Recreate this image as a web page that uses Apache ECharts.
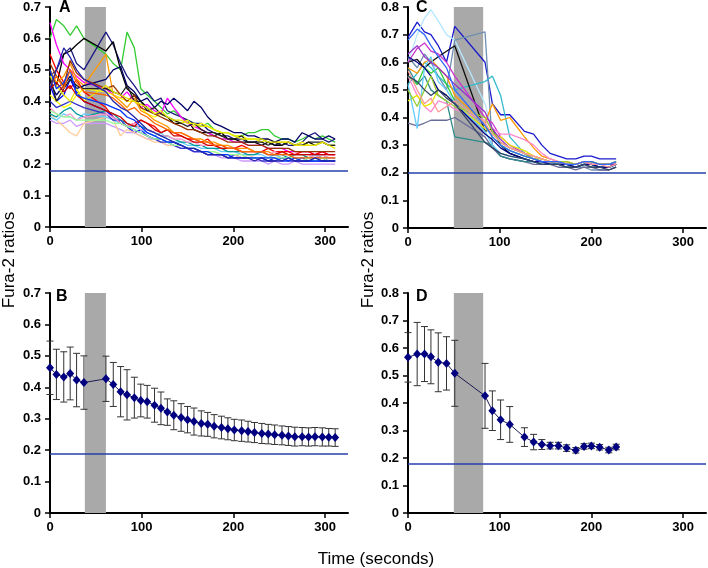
<!DOCTYPE html>
<html>
<head>
<meta charset="utf-8">
<script src="https://cdn.jsdelivr.net/npm/echarts@6/dist/echarts.min.js"></script>
<style>
  html, body { margin: 0; padding: 0; background: #fff; }
  #main { width: 708px; height: 568px; }
</style>
</head>
<body>
<div id="main"></div>
<script>
// ---- data ----
// panel A / B sampling times (s)
var timesA = [0,7,15,22,29,37, 61,69,77,84,92,99,106,114,121,128, 135,143,150,157,165,172,179,187,194,201,
  209,216,223,231,238,245,253,260,267,275, 282,289,297,304,311];

// individual cell traces, panel A
var tracesA = [
  [0.60,0.66,0.64,0.61,0.64,0.60, 0.55,0.52,0.50,0.62,0.57,0.44,0.42,0.40,0.38,0.36, 0.37,0.35,0.34,0.33,0.32,0.33,0.31,0.30,0.30,0.29, 0.29,0.30,0.30,0.31,0.31,0.29,0.28,0.28,0.27,0.28, 0.29,0.28,0.29,0.28,0.27],
  [0.48,0.50,0.55,0.57,0.52,0.50, 0.62,0.58,0.52,0.48,0.45,0.42,0.43,0.40,0.41,0.37, 0.36,0.35,0.34,0.33,0.33,0.31,0.30,0.29,0.29,0.28, 0.28,0.27,0.27,0.28,0.27,0.26,0.27,0.26,0.26,0.27, 0.29,0.30,0.28,0.27,0.28],
  [0.50,0.45,0.55,0.56,0.58,0.60, 0.56,0.59,0.50,0.44,0.42,0.40,0.38,0.36,0.36,0.35, 0.33,0.33,0.34,0.31,0.30,0.30,0.29,0.30,0.28,0.28, 0.27,0.27,0.27,0.26,0.27,0.26,0.26,0.27,0.26,0.26, 0.27,0.26,0.27,0.26,0.26],
  [0.65,0.58,0.52,0.50,0.48,0.46, 0.44,0.42,0.41,0.43,0.40,0.38,0.39,0.37,0.36,0.41, 0.38,0.35,0.33,0.32,0.31,0.30,0.29,0.28,0.28,0.27, 0.27,0.26,0.26,0.26,0.25,0.25,0.25,0.24,0.24,0.24, 0.24,0.23,0.24,0.23,0.23],
  [0.55,0.50,0.46,0.44,0.47,0.43, 0.38,0.35,0.33,0.32,0.33,0.34,0.33,0.32,0.30,0.31, 0.30,0.29,0.28,0.28,0.27,0.28,0.26,0.26,0.25,0.25, 0.26,0.25,0.24,0.24,0.25,0.24,0.24,0.24,0.23,0.24, 0.24,0.23,0.24,0.23,0.23],
  [0.45,0.40,0.42,0.47,0.43,0.40, 0.37,0.35,0.33,0.32,0.30,0.31,0.29,0.28,0.28,0.27, 0.27,0.26,0.25,0.24,0.24,0.23,0.23,0.23,0.22,0.23, 0.22,0.22,0.22,0.22,0.21,0.22,0.22,0.22,0.21,0.22, 0.21,0.22,0.22,0.21,0.21],
  [0.42,0.40,0.38,0.39,0.42,0.44, 0.43,0.42,0.41,0.40,0.40,0.38,0.36,0.35,0.36,0.35, 0.34,0.33,0.34,0.32,0.33,0.32,0.31,0.30,0.30,0.29, 0.29,0.28,0.28,0.27,0.28,0.27,0.27,0.27,0.26,0.27, 0.26,0.26,0.27,0.26,0.26],
  [0.50,0.46,0.48,0.52,0.47,0.45, 0.55,0.42,0.40,0.38,0.41,0.37,0.36,0.34,0.33,0.32, 0.30,0.30,0.29,0.28,0.28,0.27,0.27,0.26,0.26,0.25, 0.25,0.25,0.24,0.24,0.24,0.23,0.24,0.23,0.23,0.23, 0.22,0.23,0.22,0.22,0.22],
  [0.34,0.33,0.33,0.34,0.32,0.33, 0.33,0.32,0.31,0.30,0.30,0.29,0.28,0.28,0.27,0.26, 0.26,0.25,0.25,0.24,0.24,0.23,0.23,0.22,0.22,0.22, 0.21,0.21,0.21,0.21,0.20,0.21,0.20,0.20,0.21,0.20, 0.20,0.20,0.20,0.20,0.20],
  [0.36,0.34,0.32,0.30,0.29,0.33, 0.35,0.34,0.29,0.31,0.30,0.29,0.28,0.27,0.27,0.26, 0.26,0.26,0.25,0.25,0.24,0.24,0.24,0.23,0.23,0.23, 0.22,0.23,0.22,0.22,0.22,0.22,0.22,0.21,0.22,0.21, 0.21,0.22,0.21,0.21,0.21],
  [0.35,0.34,0.36,0.35,0.34,0.36, 0.35,0.34,0.33,0.32,0.32,0.31,0.30,0.29,0.30,0.28, 0.27,0.27,0.26,0.26,0.25,0.25,0.25,0.24,0.24,0.24, 0.23,0.23,0.23,0.23,0.22,0.23,0.22,0.22,0.22,0.22, 0.22,0.23,0.22,0.22,0.22],
  [0.36,0.35,0.37,0.38,0.36,0.35, 0.37,0.36,0.34,0.33,0.32,0.32,0.31,0.30,0.29,0.29, 0.28,0.27,0.27,0.26,0.26,0.25,0.25,0.25,0.24,0.24, 0.24,0.23,0.23,0.24,0.23,0.23,0.23,0.22,0.23,0.23, 0.22,0.22,0.23,0.22,0.22],
  [0.46,0.42,0.45,0.48,0.44,0.45, 0.47,0.50,0.51,0.45,0.43,0.40,0.41,0.38,0.40,0.39, 0.41,0.39,0.37,0.40,0.38,0.35,0.33,0.32,0.31,0.30, 0.30,0.29,0.29,0.28,0.28,0.27,0.28,0.28,0.27,0.30, 0.29,0.28,0.28,0.29,0.28],
  [0.52,0.48,0.45,0.53,0.49,0.47, 0.44,0.45,0.42,0.40,0.42,0.38,0.37,0.36,0.35,0.34, 0.33,0.32,0.31,0.31,0.30,0.29,0.29,0.28,0.27,0.27, 0.27,0.26,0.26,0.26,0.25,0.25,0.25,0.25,0.24,0.24, 0.24,0.24,0.24,0.24,0.24],
  [0.40,0.38,0.39,0.40,0.39,0.38, 0.36,0.34,0.34,0.32,0.31,0.30,0.29,0.28,0.27,0.27, 0.26,0.25,0.25,0.24,0.24,0.23,0.23,0.23,0.22,0.22, 0.22,0.22,0.22,0.21,0.21,0.21,0.22,0.21,0.21,0.21, 0.21,0.21,0.21,0.21,0.21],
  [0.38,0.36,0.35,0.36,0.34,0.35, 0.36,0.35,0.33,0.32,0.33,0.31,0.31,0.30,0.29,0.29, 0.28,0.28,0.27,0.27,0.26,0.26,0.26,0.25,0.25,0.25, 0.24,0.24,0.24,0.24,0.23,0.24,0.23,0.23,0.23,0.23, 0.23,0.22,0.23,0.22,0.22],
  [0.48,0.40,0.44,0.47,0.45,0.44, 0.44,0.43,0.42,0.45,0.40,0.40,0.37,0.38,0.36,0.35, 0.34,0.33,0.32,0.33,0.31,0.30,0.30,0.29,0.28,0.28, 0.29,0.27,0.27,0.27,0.26,0.27,0.26,0.27,0.26,0.26, 0.27,0.27,0.27,0.26,0.26],
  [0.48,0.45,0.42,0.40,0.44,0.40, 0.45,0.43,0.42,0.41,0.40,0.39,0.38,0.36,0.37,0.35, 0.34,0.34,0.33,0.33,0.32,0.32,0.31,0.30,0.30,0.29, 0.28,0.28,0.28,0.28,0.27,0.27,0.27,0.27,0.26,0.26, 0.26,0.26,0.27,0.26,0.25],
  [0.44,0.46,0.43,0.45,0.42,0.40, 0.37,0.36,0.35,0.33,0.32,0.34,0.33,0.31,0.30,0.31, 0.29,0.29,0.28,0.27,0.27,0.26,0.26,0.25,0.25,0.25, 0.24,0.24,0.24,0.24,0.23,0.23,0.24,0.23,0.23,0.23, 0.23,0.23,0.23,0.23,0.23],
  [0.37,0.36,0.35,0.35,0.34,0.34, 0.34,0.33,0.33,0.32,0.31,0.30,0.29,0.28,0.28,0.27, 0.26,0.26,0.25,0.25,0.24,0.24,0.24,0.23,0.23,0.23, 0.23,0.22,0.22,0.22,0.22,0.22,0.22,0.22,0.22,0.21, 0.22,0.21,0.22,0.21,0.21],
  [0.50,0.44,0.46,0.50,0.42,0.41, 0.39,0.38,0.37,0.35,0.34,0.32,0.30,0.29,0.28,0.27, 0.27,0.26,0.25,0.25,0.24,0.24,0.23,0.23,0.23,0.22, 0.22,0.22,0.22,0.22,0.22,0.22,0.21,0.21,0.22,0.21, 0.21,0.21,0.21,0.21,0.21],
  [0.45,0.48,0.44,0.50,0.46,0.43, 0.42,0.41,0.39,0.37,0.38,0.36,0.35,0.33,0.32,0.31, 0.30,0.30,0.29,0.28,0.27,0.27,0.26,0.26,0.25,0.25, 0.24,0.24,0.24,0.24,0.23,0.23,0.23,0.23,0.22,0.22, 0.22,0.22,0.22,0.22,0.22],
  [0.44,0.50,0.57,0.54,0.50,0.47, 0.43,0.40,0.38,0.37,0.35,0.33,0.31,0.30,0.29,0.28, 0.27,0.26,0.25,0.25,0.24,0.23,0.23,0.23,0.22,0.22, 0.22,0.22,0.21,0.22,0.21,0.21,0.21,0.22,0.21,0.21, 0.21,0.22,0.21,0.21,0.21]
];
var colorsA = ['#33cc33','#1a1a80','#000000','#ff00ff','#ff0000','#0000ff','#ffff00','#ff9900',
  '#cc99ff','#ffcc99','#66ccff','#009999','#000066','#993300','#3333cc','#ff99cc',
  '#222222','#e6e600','#cc0000','#99ff99','#0033ff','#ff6600','#2222aa'];

// panel C / D sampling times (s)
var timesC = [0,10,18,25,33,42,51, 84,92,101,111,127,137,146,155,164,173,183,192,200,209,219,227];

// individual cell traces, panel C
var tracesC = [
  [0.69,0.745,0.71,0.70,0.66,0.60,0.73, 0.60,0.45,0.41,0.41,0.35,0.34,0.30,0.27,0.26,0.25,0.25,0.26,0.26,0.25,0.25,0.25],
  [0.60,0.70,0.76,0.79,0.75,0.70,0.68, 0.45,0.35,0.30,0.27,0.25,0.24,0.24,0.23,0.23,0.23,0.22,0.23,0.23,0.22,0.22,0.22],
  [0.62,0.58,0.63,0.60,0.55,0.50,0.68, 0.71,0.30,0.26,0.25,0.24,0.24,0.23,0.23,0.23,0.22,0.22,0.22,0.21,0.21,0.21,0.22],
  [0.38,0.37,0.38,0.39,0.39,0.39,0.40, 0.33,0.29,0.26,0.25,0.24,0.23,0.23,0.23,0.22,0.22,0.21,0.22,0.22,0.21,0.21,0.22],
  [0.58,0.52,0.55,0.50,0.48,0.46,0.33, 0.31,0.30,0.26,0.25,0.24,0.24,0.23,0.23,0.23,0.22,0.22,0.23,0.22,0.22,0.22,0.23],
  [0.52,0.56,0.60,0.58,0.55,0.52,0.50, 0.53,0.55,0.48,0.33,0.27,0.25,0.24,0.24,0.23,0.23,0.22,0.23,0.23,0.22,0.22,0.23],
  [0.60,0.61,0.58,0.60,0.62,0.64,0.66, 0.35,0.36,0.30,0.27,0.25,0.24,0.24,0.23,0.23,0.23,0.22,0.23,0.23,0.22,0.22,0.23],
  [0.60,0.65,0.67,0.64,0.63,0.60,0.55, 0.40,0.38,0.33,0.30,0.27,0.26,0.25,0.24,0.24,0.23,0.23,0.24,0.23,0.23,0.23,0.23],
  [0.58,0.56,0.60,0.61,0.58,0.55,0.48, 0.38,0.45,0.39,0.40,0.33,0.29,0.26,0.25,0.24,0.24,0.23,0.24,0.24,0.23,0.23,0.23],
  [0.55,0.48,0.44,0.42,0.46,0.45,0.43, 0.39,0.36,0.34,0.34,0.32,0.30,0.27,0.25,0.24,0.24,0.23,0.24,0.24,0.23,0.23,0.23],
  [0.46,0.48,0.44,0.45,0.50,0.48,0.45, 0.36,0.34,0.33,0.30,0.28,0.26,0.25,0.24,0.24,0.24,0.23,0.24,0.24,0.23,0.23,0.24],
  [0.55,0.52,0.58,0.56,0.58,0.52,0.46, 0.38,0.33,0.30,0.28,0.26,0.25,0.24,0.24,0.24,0.23,0.23,0.24,0.24,0.23,0.23,0.24],
  [0.52,0.36,0.58,0.62,0.53,0.50,0.45, 0.35,0.30,0.27,0.26,0.25,0.24,0.24,0.23,0.23,0.23,0.22,0.23,0.23,0.22,0.22,0.23],
  [0.62,0.60,0.58,0.55,0.50,0.48,0.45, 0.34,0.32,0.29,0.27,0.25,0.24,0.24,0.23,0.23,0.23,0.22,0.23,0.23,0.22,0.22,0.23],
  [0.63,0.66,0.62,0.60,0.58,0.55,0.52, 0.42,0.36,0.32,0.29,0.27,0.25,0.24,0.24,0.24,0.23,0.23,0.24,0.23,0.23,0.23,0.23],
  [0.50,0.44,0.50,0.55,0.48,0.46,0.44, 0.40,0.35,0.31,0.29,0.27,0.25,0.25,0.24,0.24,0.24,0.23,0.24,0.24,0.23,0.23,0.24],
  [0.57,0.50,0.45,0.47,0.42,0.44,0.46, 0.38,0.34,0.31,0.29,0.27,0.26,0.25,0.24,0.24,0.23,0.23,0.24,0.23,0.23,0.22,0.23],
  [0.68,0.72,0.70,0.66,0.62,0.58,0.50, 0.37,0.33,0.30,0.28,0.26,0.25,0.24,0.24,0.24,0.23,0.23,0.24,0.24,0.23,0.23,0.24],
  [0.55,0.53,0.50,0.48,0.50,0.47,0.45, 0.31,0.29,0.27,0.26,0.25,0.24,0.23,0.23,0.23,0.22,0.22,0.23,0.22,0.22,0.21,0.22]
];
var colorsC = ['#1a1acc','#b3e6ff','#6f8fb0','#6a6a99','#2e8b8b','#33bbcc','#111111','#cc33cc',
  '#ff9900','#ff88cc','#e6e600','#33cc33','#66ccff','#000080','#9933cc','#99cc33','#ff9999','#3366ff','#334466'];

// panel B: mean +/- SD
var meanB = [0.462,0.441,0.433,0.444,0.423,0.415, 0.427,0.409,0.386,0.376,0.367,0.358,0.354,0.343,0.333,0.321,
  0.311,0.304,0.297,0.291,0.285,0.282,0.276,0.272,0.268,0.264, 0.262,0.259,0.256,0.253,0.251,0.249,0.247,0.245,0.243,0.243,
  0.242,0.243,0.242,0.241,0.240];
var errB = [0.085,0.08,0.08,0.084,0.085,0.085, 0.072,0.07,0.08,0.08,0.065,0.052,0.052,0.054,0.052,0.042,
  0.046,0.044,0.042,0.043,0.04,0.038,0.037,0.036,0.035,0.034, 0.034,0.033,0.032,0.032,0.031,0.031,0.03,0.03,0.03,0.029,
  0.029,0.029,0.029,0.028,0.028];

// panel D: mean +/- SD
var meanD = [0.566,0.578,0.578,0.568,0.548,0.544,0.508, 0.426,0.372,0.339,0.322,0.276,0.258,0.249,0.245,0.245,0.236,0.228,0.242,0.244,0.239,0.229,0.240];
var errD = [0.09,0.115,0.1,0.098,0.107,0.097,0.12, 0.118,0.072,0.072,0.065,0.034,0.028,0.018,0.012,0.012,0.012,0.01,0.01,0.01,0.01,0.01,0.01];

// stimulus window and baseline ratio
var bandAB = [38, 61];
var bandCD = [50, 82];
var baseAB = [0.185, 0.187];
var baseCD = [0.197, 0.185];
var xTicks = [0, 100, 200, 300];

// ---- chart ----
var chart = echarts.init(document.getElementById('main'));
var FONT = 'Liberation Sans, Arial, sans-serif';

function xAx(gi) {
  return {
    type: 'value', gridIndex: gi, min: 0, max: 325, interval: 100,
    axisLine: { lineStyle: { color: '#000', width: 2 } },
    axisTick: { length: 5, lineStyle: { color: '#000', width: 1.5 }, customValues: xTicks },
    axisLabel: { color: '#000', fontFamily: FONT, fontWeight: 'bold', fontSize: 13, margin: 8, customValues: xTicks },
    splitLine: { show: false }
  };
}
function yAx(gi, max) {
  return {
    type: 'value', gridIndex: gi, min: 0, max: max, interval: 0.1,
    axisLine: { show: true, lineStyle: { color: '#000', width: 2 } },
    axisTick: { show: true, length: 5, lineStyle: { color: '#000', width: 1.5 } },
    axisLabel: { color: '#000', fontFamily: FONT, fontWeight: 'bold', fontSize: 13, margin: 9 },
    splitLine: { show: false }
  };
}

function bandSeries(gi, band, base) {
  return {
    type: 'line', xAxisIndex: gi, yAxisIndex: gi, data: [], z: 1, silent: true,
    markArea: { silent: true, itemStyle: { color: '#a9a9a9', opacity: 1 },
      data: [[{ xAxis: band[0] }, { xAxis: band[1] }]] },
    markLine: { silent: true, symbol: 'none', label: { show: false },
      lineStyle: { color: '#2541a8', width: 1.5, type: 'solid' },
      data: [{ yAxis: base }] }
  };
}

function traceSeries(gi, times, traces, colors) {
  return traces.map(function (tr, i) {
    return {
      type: 'line', xAxisIndex: gi, yAxisIndex: gi, z: 3, symbol: 'none',
      lineStyle: { color: colors[i % colors.length], width: 1.3 },
      data: tr.map(function (v, j) { return [times[j], v]; })
    };
  });
}

function errorSeries(gi, times, mean, err) {
  return {
    type: 'custom', xAxisIndex: gi, yAxisIndex: gi, z: 3,
    data: times.map(function (t, i) { return [t, mean[i], err[i]]; }),
    encode: { x: 0, y: 1 },
    renderItem: function (params, api) {
      var t = api.value(0), m = api.value(1), e = api.value(2);
      var hi = api.coord([t, m + e]), lo = api.coord([t, m - e]);
      var w = 3.5, st = { stroke: '#333', lineWidth: 1 };
      return { type: 'group', children: [
        { type: 'line', shape: { x1: hi[0], y1: hi[1], x2: lo[0], y2: lo[1] }, style: st },
        { type: 'line', shape: { x1: hi[0] - w, y1: hi[1], x2: hi[0] + w, y2: hi[1] }, style: st },
        { type: 'line', shape: { x1: lo[0] - w, y1: lo[1], x2: lo[0] + w, y2: lo[1] }, style: st }
      ] };
    }
  };
}

function meanSeries(gi, times, mean) {
  return {
    type: 'line', xAxisIndex: gi, yAxisIndex: gi, z: 4,
    symbol: 'diamond', symbolSize: [8, 9],
    itemStyle: { color: '#000080' },
    lineStyle: { color: '#1a1a50', width: 1 },
    data: times.map(function (t, i) { return [t, mean[i]]; })
  };
}

var series = [
  bandSeries(0, bandAB, baseAB[0]),
  bandSeries(1, bandAB, baseAB[1]),
  bandSeries(2, bandCD, baseCD[0]),
  bandSeries(3, bandCD, baseCD[1])
]
  .concat(traceSeries(0, timesA, tracesA, colorsA))
  .concat(traceSeries(2, timesC, tracesC, colorsC))
  .concat([errorSeries(1, timesA, meanB, errB), meanSeries(1, timesA, meanB)])
  .concat([errorSeries(3, timesC, meanD, errD), meanSeries(3, timesC, meanD)]);

function label(txt, x, y) {
  return { type: 'text', left: x, top: y, style: { text: txt, fill: '#000',
    font: 'bold 16px ' + FONT } };
}

var option = {
  animation: false,
  backgroundColor: '#fff',
  grid: [
    { left: 50, top: 7, width: 298, height: 220, outerBoundsMode: 'none' },
    { left: 50, top: 293, width: 298, height: 220, outerBoundsMode: 'none' },
    { left: 408, top: 7, width: 298, height: 221, outerBoundsMode: 'none' },
    { left: 408, top: 293, width: 298, height: 220, outerBoundsMode: 'none' }
  ],
  xAxis: [xAx(0), xAx(1), xAx(2), xAx(3)],
  yAxis: [yAx(0, 0.7), yAx(1, 0.7), yAx(2, 0.8), yAx(3, 0.8)],
  graphic: [
    label('A', 59, 0), label('B', 56, 289), label('C', 416, 0), label('D', 416, 289),
    { type: 'text', x: 9, y: 260, rotation: Math.PI / 2,
      style: { text: 'Fura-2 ratios', fill: '#000', font: '17px ' + FONT, textAlign: 'center', textVerticalAlign: 'middle' } },
    { type: 'text', x: 368, y: 260, rotation: Math.PI / 2,
      style: { text: 'Fura-2 ratios', fill: '#000', font: '17px ' + FONT, textAlign: 'center', textVerticalAlign: 'middle' } },
    { type: 'text', x: 376, y: 559,
      style: { text: 'Time (seconds)', fill: '#000', font: '17px ' + FONT, textAlign: 'center', textVerticalAlign: 'middle' } }
  ],
  series: series
};

chart.setOption(option);
</script>
</body>
</html>
